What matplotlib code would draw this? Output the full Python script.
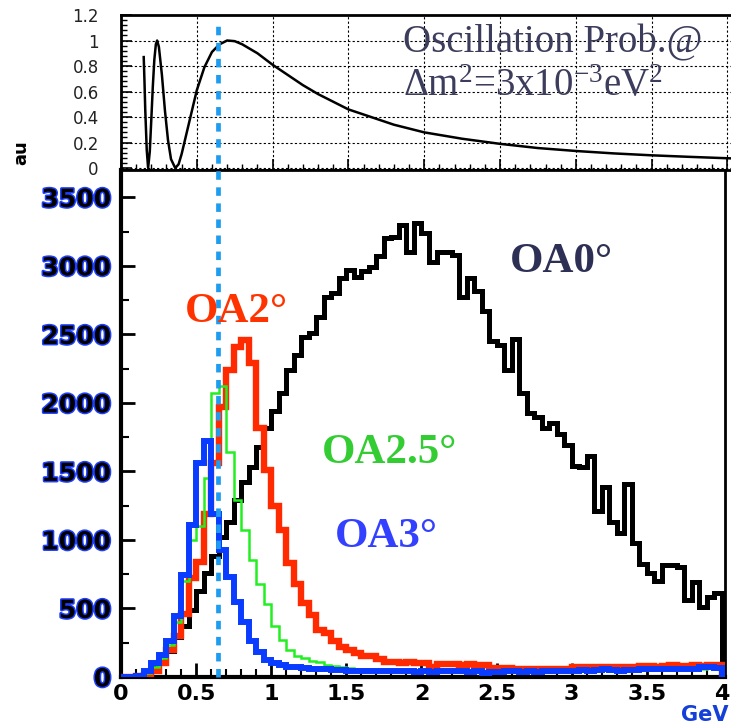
import numpy as np
import matplotlib.pyplot as plt
import matplotlib.patheffects as pe
from matplotlib.ticker import MultipleLocator

plt.rcParams['mathtext.fontset'] = 'custom'
plt.rcParams['mathtext.rm'] = 'Liberation Serif'
plt.rcParams['mathtext.it'] = 'Liberation Serif:italic'

# oscillation probability (E in GeV)
osc_e = [0.150, 0.155, 0.160, 0.170, 0.179, 0.190, 0.200, 0.210, 0.220, 0.230,
         0.2385, 0.250, 0.270, 0.290, 0.310, 0.330, 0.358, 0.380, 0.400, 0.450,
         0.500, 0.550, 0.600, 0.650, 0.700, 0.750, 0.800, 0.900, 1.000, 1.100,
         1.200, 1.300, 1.400, 1.500, 1.600, 1.800, 2.000, 2.250, 2.500, 2.750,
         3.000, 3.250, 3.500, 3.750, 4.000, 4.050]
osc_p = [0.87, 0.68, 0.46, 0.14, 0.0, 0.13, 0.38, 0.64, 0.85, 0.97,
         1.0, 0.95, 0.73, 0.45, 0.22, 0.07, 0.0, 0.03, 0.11, 0.36,
         0.61, 0.79, 0.91, 0.97, 1.0, 0.995, 0.97, 0.90, 0.81, 0.73,
         0.65, 0.58, 0.52, 0.46, 0.42, 0.34, 0.28, 0.23, 0.19, 0.157,
         0.134, 0.115, 0.10, 0.088, 0.077, 0.075]

# neutrino energy spectra, 0.05 GeV bins from 0 to 4 GeV
bin_width = 0.05
oa0 = [0, 5, 15, 40, 70, 110, 190, 290, 370, 490,
       630, 760, 880, 1020, 1130, 1290, 1420, 1530, 1680, 1820,
       1940, 2070, 2240, 2350, 2480, 2510, 2630, 2770, 2800, 2910,
       2970, 2920, 2960, 2990, 3070, 3200, 3210, 3300, 3100, 3310,
       3240, 3030, 3100, 3100, 3080, 2770, 2910, 2820, 2670, 2450,
       2420, 2240, 2470, 2070, 1930, 1900, 1820, 1850, 1770, 1690,
       1540, 1530, 1610, 1210, 1390, 1130, 1050, 1410, 980, 825,
       760, 700, 820, 820, 800, 560, 690, 510, 580, 610]
oa2 = [0, 0, 5, 15, 40, 100, 200, 300, 460, 720,
       840, 1190, 1560, 1970, 2240, 2410, 2460, 2290, 1820, 1510,
       1250, 1070, 830, 680, 540, 450, 340, 320, 260, 220,
       200, 175, 155, 150, 130, 110, 110, 105, 110, 105,
       100, 75, 95, 95, 95, 90, 95, 90, 85, 65,
       65, 65, 60, 60, 55, 60, 55, 60, 55, 60,
       70, 70, 75, 70, 75, 70, 75, 70, 75, 80,
       80, 75, 80, 85, 80, 80, 85, 80, 85, 90]
oa25 = [0, 0, 5, 30, 70, 140, 230, 400, 700, 1000,
        1100, 1450, 2070, 2120, 1640, 1290, 1070, 850, 680, 530,
        370, 270, 200, 150, 140, 115, 110, 85, 80, 70,
        65, 60, 55, 50, 50, 45, 45, 40, 40, 40,
        40, 35, 35, 40, 35, 35, 35, 35, 30, 30,
        30, 35, 35, 30, 35, 30, 35, 35, 40, 35,
        40, 45, 40, 45, 50, 45, 40, 45, 45, 50,
        50, 50, 55, 50, 55, 50, 55, 60, 65, 60]
oa3 = [0, 0, 10, 40, 100, 160, 260, 445, 745, 1110,
       1560, 1720, 1190, 925, 730, 550, 400, 260, 185, 125,
       100, 85, 75, 70, 65, 60, 55, 55, 50, 50,
       45, 45, 40, 45, 40, 40, 45, 40, 40, 35,
       40, 35, 40, 45, 40, 40, 35, 40, 30, 35,
       35, 40, 40, 35, 40, 35, 40, 40, 45, 40,
       45, 50, 45, 50, 55, 50, 45, 50, 50, 55,
       55, 55, 60, 55, 60, 55, 60, 70, 75, 65]

osc_max_e = 0.645
top_yticks = [0, 0.2, 0.4, 0.6, 0.8, 1.0, 1.2]
top_ylabels = ['0', '0.2', '0.4', '0.6', '0.8', '1', '1.2']
xticks = [0, 0.5, 1, 1.5, 2, 2.5, 3, 3.5, 4]
xlabels = ['0', '0.5', '1', '1.5', '2', '2.5', '3', '3.5', '4']

edges = np.arange(len(oa0) + 1) * bin_width

fig = plt.figure(figsize=(7.31, 7.28), dpi=100)
ax_top = fig.add_axes([0.1655, 0.7665, 0.84, 0.2129])
ax = fig.add_axes([0.1655, 0.0701, 0.8263, 0.6964])

# upper panel: oscillation probability
ax_top.plot(osc_e, osc_p, color='black', lw=1.8, zorder=3)
ax_top.set_xlim(0, 4.05)
ax_top.set_ylim(-0.015, 1.2)
ax_top.set_xticks(xticks)
ax_top.set_xticklabels([])
ax_top.xaxis.set_minor_locator(MultipleLocator(0.1))
ax_top.set_yticks(top_yticks)
ax_top.set_yticklabels(top_ylabels, fontsize=12, color='#222222')
ax_top.yaxis.set_minor_locator(MultipleLocator(0.04))
ax_top.grid(True, which='major', color='black', lw=0.8, ls=(0, (2, 2)))
ax_top.tick_params(which='major', direction='in', length=8, width=1.2, pad=16)
ax_top.tick_params(which='minor', direction='in', length=4, width=1)
for s in ax_top.spines.values():
    s.set_linewidth(2)

fig.text(0.5513, 0.9286, 'Oscillation Prob.@', fontsize=28,
         family='Liberation Serif', color='#3c3c5c', ha='left', va='baseline')
fig.text(0.5513, 0.868, r'Δm$^2$=3x10$^{-3}$eV$^2$', fontsize=28,
         family='Liberation Serif', color='#3c3c5c', ha='left', va='baseline')

# lower panel: spectra
ax.stairs(oa0, edges, baseline=0, color='black', lw=3.6, zorder=2)
ax.stairs(oa2, edges, baseline=0, color='#ff2a00', lw=4.6, zorder=3)
ax.stairs(oa25, edges, baseline=0, color='#22ee22', lw=1.8, zorder=4)
ax.stairs(oa3, edges, baseline=0, color='#0a3cff', lw=4.3, zorder=5)
ax.axvline(osc_max_e, ymin=0, ymax=1.29, color='#1e9cf0', lw=3.4,
           ls=(0, (1.8, 1.6)), clip_on=False, zorder=6)

ax.set_xlim(0, 4.02)
ax.set_ylim(0, 3700)
ax.set_xticks(xticks)
ax.set_xticklabels(xlabels, fontsize=16, fontweight='bold')
ax.xaxis.set_minor_locator(MultipleLocator(0.1))
ax.yaxis.set_major_locator(MultipleLocator(500))
ax.yaxis.set_minor_locator(MultipleLocator(250))
for lab in ax.get_yticklabels():
    lab.set_fontsize(18)
    lab.set_fontweight('bold')
    lab.set_path_effects([pe.withStroke(linewidth=2.2, foreground='#1f3fff')])
ax.tick_params(which='major', direction='in', length=10, width=2)
ax.tick_params(which='minor', direction='in', length=6, width=1.5)
ax.tick_params(axis='y', pad=7)
ax.tick_params(axis='x', pad=5)
ax.spines['left'].set_linewidth(3)
ax.spines['bottom'].set_linewidth(3)
ax.spines['right'].set_linewidth(2)
ax.spines['top'].set_linewidth(2)

lab_font = dict(family='Liberation Serif', fontweight='bold', fontsize=31,
                ha='center', va='baseline')
fig.text(0.7674, 0.6264, 'OA0°', color='#2e2f55', **lab_font)
fig.text(0.3228, 0.5577, 'OA2°', color='#ff3300', **lab_font)
fig.text(0.5335, 0.364, 'OA2.5°', color='#33cc33', **lab_font)
fig.text(0.528, 0.2486, 'OA3°', color='#3340ff', **lab_font)

fig.text(0.996, 0.004, 'GeV', fontsize=15, fontweight='bold',
         color='#1540d8', ha='right', va='bottom')
fig.text(0.0287, 0.791, 'au', fontsize=13, fontweight='bold', rotation=90,
         ha='center', va='center')

fig.savefig('out.png', dpi=100)
